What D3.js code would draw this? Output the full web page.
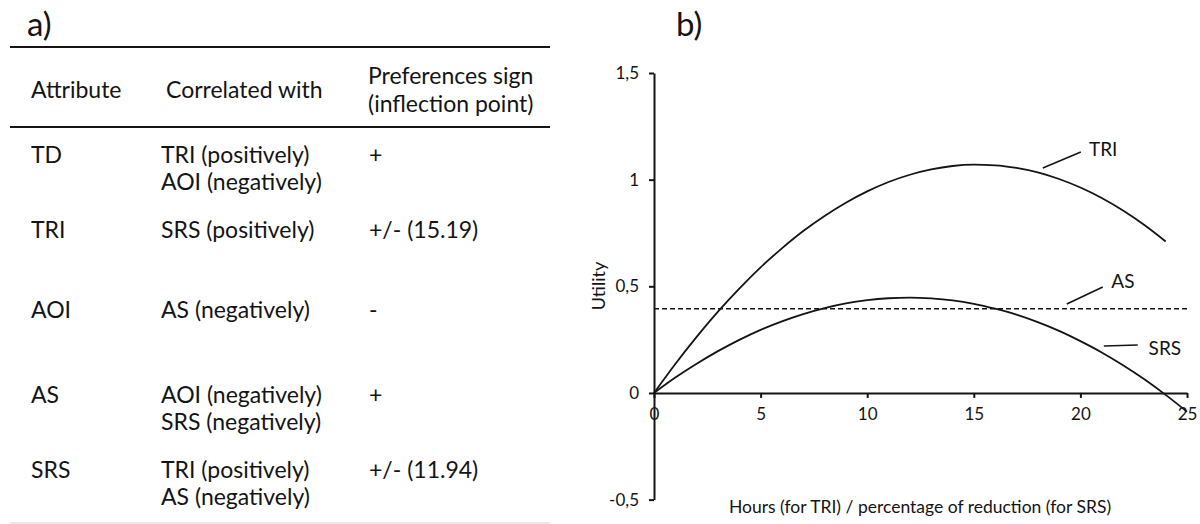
<!DOCTYPE html>
<html>
<head>
<meta charset="utf-8">
<script src="https://cdn.jsdelivr.net/npm/d3@7"></script>
<style>
  html, body { margin: 0; padding: 0; background: #fff; }
  svg { display: block; }
  text { font-family: Lato, "Open Sans", sans-serif; fill: #141414; }
</style>
</head>
<body>
<svg id="chart" width="1200" height="524"></svg>
<script>
// ---------------- DATA ----------------
// Panel a) table
const tableHeaders = [["Attribute"], ["Correlated with"], ["Preferences sign", "(inflection point)"]];
const attributes = ["TD", "TRI", "AOI", "AS", "SRS"];
const correlatedWith = [
  ["TRI (positively)", "AOI (negatively)"],
  ["SRS (positively)"],
  ["AS (negatively)"],
  ["AOI (negatively)", "SRS (negatively)"],
  ["TRI (positively)", "AS (negatively)"]
];
const preferenceSign = ["+", "+/- (15.19)", "-", "+", "+/- (11.94)"];

// Panel b) utility curves
const xTicks = [0, 5, 10, 15, 20, 25];
const xTickLabels = ["0", "5", "10", "15", "20", "25"];
const yTicks = [-0.5, 0, 0.5, 1, 1.5];
const yTickLabels = ["-0,5", "0", "0,5", "1", "1,5"];

const triHours = [0,1,2,3,4,5,6,7,8,9,10,11,12,13,14,15,16,17,18,19,20,21,22,23,24];
const triUtility = [0,0.136,0.263,0.381,0.489,0.589,0.678,0.759,0.830,0.892,0.945,0.989,1.023,1.048,1.064,1.070,1.067,1.055,1.034,1.003,0.963,0.914,0.855,0.787,0.710];

const srsPercent = [0,1,2,3,4,5,6,7,8,9,10,11,12,13,14,15,16,17,18,19,20,21,22,23,24,25];
const srsUtility = [0,0.072,0.137,0.196,0.249,0.296,0.336,0.370,0.398,0.420,0.435,0.444,0.447,0.443,0.434,0.418,0.395,0.367,0.332,0.291,0.243,0.190,0.130,0.064,-0.009,-0.088];

const asLevel = 0.395;           // constant AS utility (dashed)
const asRange = [0, 25];

const seriesLabels = ["TRI", "AS", "SRS"];

const xTitle = "Hours (for TRI) / percentage of reduction (for SRS)";
const yTitle = "Utility";

// ---------------- LAYOUT ----------------
const svg = d3.select("#chart");
const ink = "#141414";

// ---- Panel a) ----
const tbl = { left: 10, right: 550, topRule: 47, headRule: 127, bottomRule: 523,
  colX: [31, 161, 369], headColX: [31, 166, 368], rowY: [155, 230, 310, 395, 470], lineH: 27,
  font: 23 };

svg.append("text").attr("x", 27).attr("y", 36).attr("font-size", 33).text("a)");

svg.append("line").attr("x1", tbl.left).attr("x2", tbl.right)
  .attr("y1", tbl.topRule).attr("y2", tbl.topRule).attr("stroke", ink).attr("stroke-width", 2);
svg.append("line").attr("x1", tbl.left).attr("x2", tbl.right)
  .attr("y1", tbl.headRule).attr("y2", tbl.headRule).attr("stroke", ink).attr("stroke-width", 2);
svg.append("line").attr("x1", tbl.left).attr("x2", tbl.right)
  .attr("y1", tbl.bottomRule).attr("y2", tbl.bottomRule).attr("stroke", "#e4e4e4").attr("stroke-width", 1.5);

const headMid = (tbl.topRule + tbl.headRule) / 2 + 3;
tableHeaders.forEach((lines, c) => {
  const n = lines.length;
  lines.forEach((s, i) => {
    svg.append("text")
      .attr("x", tbl.headColX[c])
      .attr("y", headMid + (i - (n - 1) / 2) * 28)
      .attr("dy", "0.35em")
      .attr("font-size", tbl.font)
      .text(s);
  });
});

attributes.forEach((a, r) => {
  const y0 = tbl.rowY[r];
  svg.append("text").attr("x", tbl.colX[0]).attr("y", y0).attr("dy", "0.35em")
    .attr("font-size", tbl.font).text(a);
  correlatedWith[r].forEach((s, i) => {
    svg.append("text").attr("x", tbl.colX[1]).attr("y", y0 + i * tbl.lineH).attr("dy", "0.35em")
      .attr("font-size", tbl.font).text(s);
  });
  svg.append("text").attr("x", tbl.colX[2]).attr("y", y0).attr("dy", "0.35em")
    .attr("font-size", tbl.font).text(preferenceSign[r]);
});

// ---- Panel b) ----
svg.append("text").attr("x", 676).attr("y", 36).attr("font-size", 33).text("b)");

const x = d3.scaleLinear().domain([0, 25]).range([654, 1187]);
const y = d3.scaleLinear().domain([-0.5, 1.5]).range([499.6, 73]);

const g = svg.append("g");

// y axis
const yAxis = d3.axisLeft(y).tickValues(yTicks)
  .tickFormat((d, i) => yTickLabels[i]).tickSize(5).tickSizeOuter(0).tickPadding(10);
const gy = g.append("g").attr("transform", `translate(${x(0)},0)`).call(yAxis);
gy.select(".domain").attr("stroke", ink).attr("stroke-width", 2);
gy.selectAll(".tick line").attr("stroke", ink).attr("stroke-width", 2);
gy.selectAll(".tick text").attr("font-size", 17).attr("fill", ink)
  .style("font-family", "Lato, sans-serif");

// x axis at y = 0
const xAxis = d3.axisBottom(x).tickValues(xTicks)
  .tickFormat((d, i) => xTickLabels[i]).tickSize(5).tickSizeOuter(0).tickPadding(10);
const gx = g.append("g").attr("transform", `translate(0,${y(0)})`).call(xAxis);
gx.select(".domain").attr("stroke", ink).attr("stroke-width", 2);
gx.selectAll(".tick line").attr("stroke", ink).attr("stroke-width", 2);
gx.selectAll(".tick text").attr("font-size", 17).attr("fill", ink)
  .style("font-family", "Lato, sans-serif");

// AS dashed line
g.append("line")
  .attr("x1", x(asRange[0])).attr("x2", x(asRange[1]))
  .attr("y1", y(asLevel)).attr("y2", y(asLevel))
  .attr("stroke", ink).attr("stroke-width", 1.6).attr("stroke-dasharray", "5,3");

const line = d3.line().x(d => x(d[0])).y(d => y(d[1])).curve(d3.curveMonotoneX);

g.append("path").datum(triHours.map((h, i) => [h, triUtility[i]]))
  .attr("d", line).attr("fill", "none").attr("stroke", ink).attr("stroke-width", 1.8);
g.append("path").datum(srsPercent.map((h, i) => [h, srsUtility[i]]))
  .attr("d", line).attr("fill", "none").attr("stroke", ink).attr("stroke-width", 1.8);

// series labels with leader lines (data coordinates)
const labelLeaders = [
  { from: [18.24, 1.055], to: [20.02, 1.13], text: [20.4, 1.144] },
  { from: [19.36, 0.417], to: [21.05, 0.497], text: [21.45, 0.525] },
  { from: [21.10, 0.220], to: [22.69, 0.225], text: [23.2, 0.211] }
];
labelLeaders.forEach((L, i) => {
  g.append("line").attr("x1", x(L.from[0])).attr("y1", y(L.from[1]))
    .attr("x2", x(L.to[0])).attr("y2", y(L.to[1]))
    .attr("stroke", ink).attr("stroke-width", 1.6);
  g.append("text").attr("x", x(L.text[0])).attr("y", y(L.text[1])).attr("dy", "0.35em")
    .attr("font-size", 19).text(seriesLabels[i]);
});

// axis titles
g.append("text").attr("x", 920).attr("y", 513).attr("text-anchor", "middle")
  .attr("font-size", 17.5).text(xTitle);
g.append("text").attr("transform", `translate(605,286) rotate(-90)`)
  .attr("text-anchor", "middle").attr("font-size", 18).text(yTitle);
</script>
</body>
</html>
